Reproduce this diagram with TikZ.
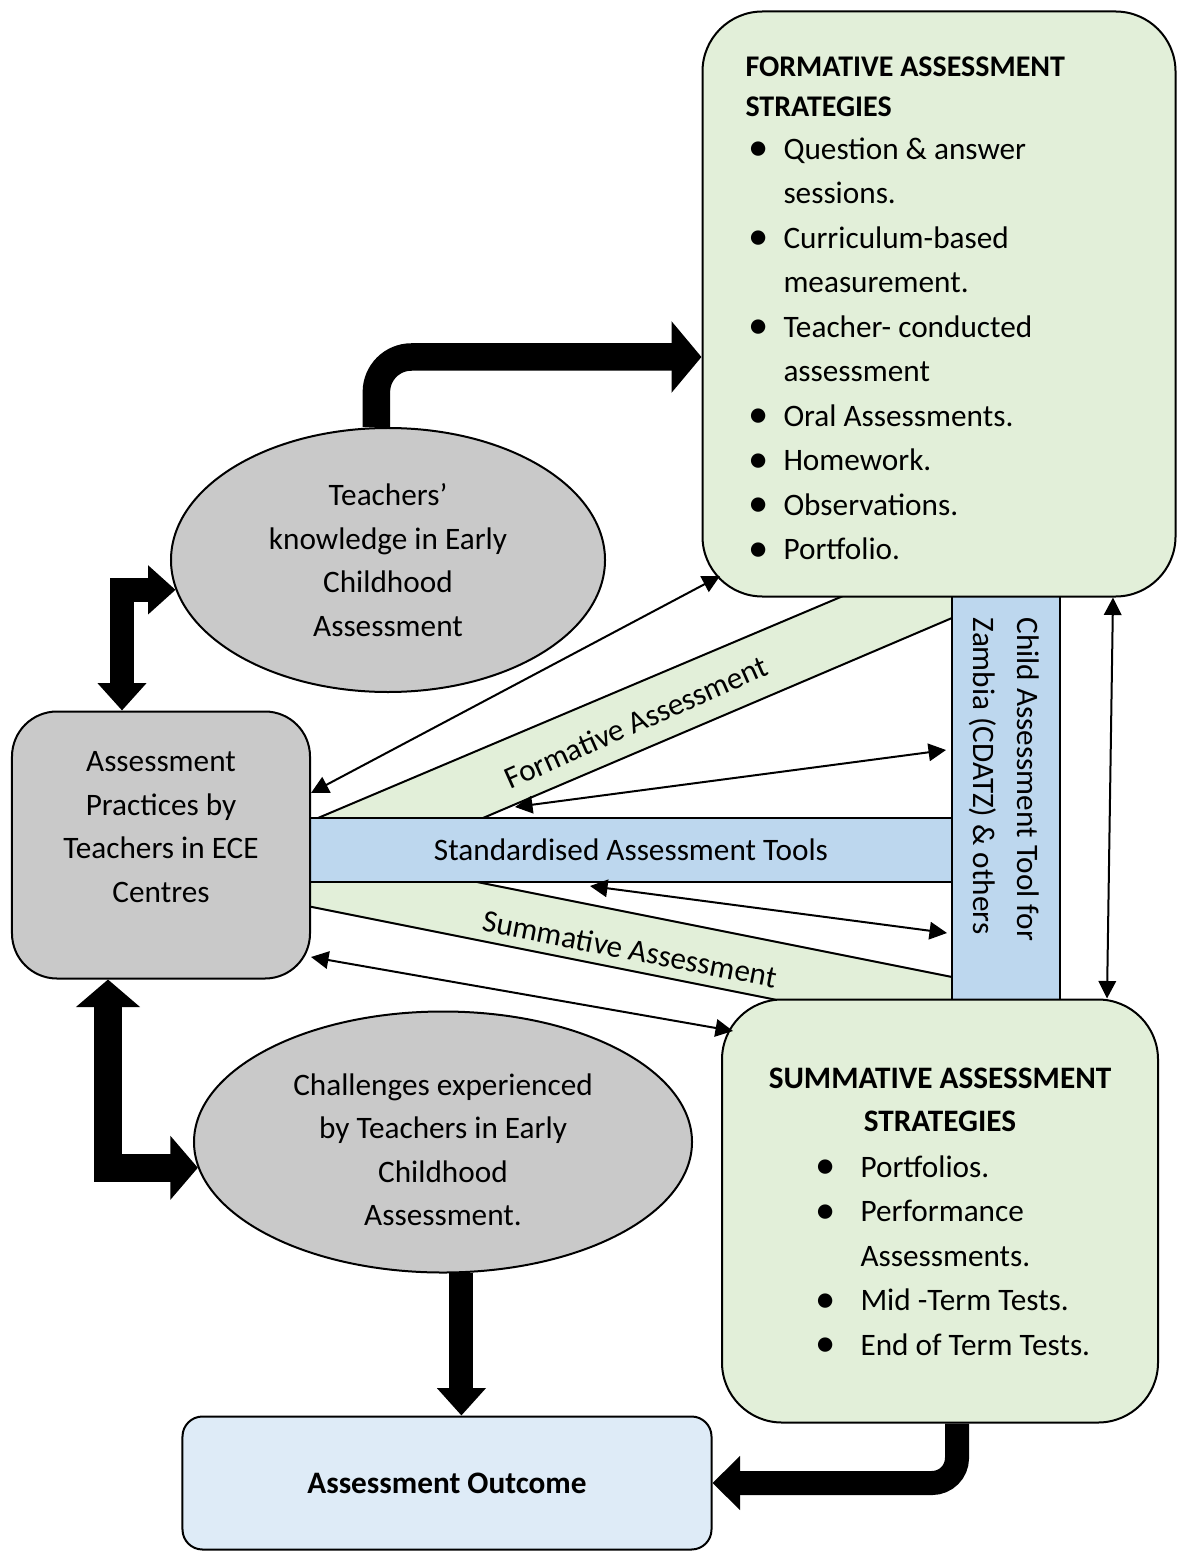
\documentclass[tikz,border=0pt]{standalone}
\usepackage{fontspec}
\setmainfont{Carlito}
\usetikzlibrary{shapes,arrows.meta}

\definecolor{greenfill}{HTML}{E2EFD9}
\definecolor{greyfill}{HTML}{C9C9C9}
\definecolor{bluebar}{HTML}{BDD7EE}
\definecolor{bluebox}{HTML}{DEEBF7}

\newcommand{\bul}[1]{\makebox[#1][l]{\hspace{0.5pt}\raisebox{-0.7pt}{\scalebox{1.3}{\textbullet}}}}

\begin{document}
\begin{tikzpicture}[x=0.4pt,y=-0.4pt,font=\fontsize{12.5}{17.8}\selectfont,
                   box/.style={draw,line width=0.8pt,inner sep=0pt},
                   greenbox/.style={box,fill=greenfill,rounded corners=24pt},
                   greybox/.style={box,fill=greyfill},
                   bigarrow/.style={line width=11pt,-{Triangle[length=12pt,width=28pt]}},
                   twobig/.style 2 args={line width=#1,{Triangle[length=11pt,width=#2]}-{Triangle[length=11pt,width=#2]}},
                   thinarrow/.style={line width=0.8pt,{Triangle[length=7pt,width=7pt]}-{Triangle[length=7pt,width=7pt]}}]
\useasboundingbox (0,0) rectangle (1178,1551);

\fill[greenfill] (318,818) -- (843,596) -- (952,596) -- (952,618) -- (483,818) -- cycle;
\draw[line width=0.8pt] (318,818) -- (843,596) (483,818) -- (952,618);
\fill[greenfill] (307,882) -- (477,882) -- (952,977) -- (952,1000) -- (777,1000) -- (307,906) -- cycle;
\draw[line width=0.8pt] (477,882) -- (952,977) (307,906) -- (777,1000);
\node[rotate=24] (formlabel) at (636,722) {Formative Assessment};
\node[rotate=-11] (summlabel) at (630,949) {Summative Assessment};

\node[box,fill=bluebar,minimum width=256.8pt,minimum height=25.6pt] (std) at (631,850) {Standardised Assessment Tools};
\node[box,fill=bluebar,minimum width=43.2pt,minimum height=161.6pt] (cdatz) at (1006,798) {};
\node[rotate=-90,anchor=north west,align=left,inner sep=0pt] (cdatztext) at (1040,617) {Child Assessment Tool for\\Zambia (CDATZ) \& others};

\node[greenbox,minimum width=189.2pt,minimum height=234pt] (form) at (939,304) {};
\node[anchor=north west,align=left,inner sep=0pt,font=\fontsize{12}{16}\selectfont\bfseries] (formhead) at (745,56) {FORMATIVE ASSESSMENT\\STRATEGIES};
\node[anchor=north west,align=left,inner sep=0pt] (formlist) at (747,137) {\bul{14.4pt}Question \& answer\\\hspace*{14.4pt}sessions.\\\bul{14.4pt}Curriculum-based\\\hspace*{14.4pt}measurement.\\\bul{14.4pt}Teacher- conducted\\\hspace*{14.4pt}assessment\\\bul{14.4pt}Oral Assessments.\\\bul{14.4pt}Homework.\\\bul{14.4pt}Observations.\\\bul{14.4pt}Portfolio.};

\node[greenbox,minimum width=174.4pt,minimum height=169.2pt] (summ) at (940,1211) {};
\node[anchor=north,align=center,inner sep=0pt,font=\fontsize{12.5}{17.2}\selectfont\bfseries] (summhead) at (940,1067) {SUMMATIVE ASSESSMENT\\STRATEGIES};
\node[anchor=north west,align=left,inner sep=0pt] (summlist) at (814,1155) {\bul{18.4pt}Portfolios.\\\bul{18.4pt}Performance\\\hspace*{18.4pt}Assessments.\\\bul{18.4pt}Mid -Term Tests.\\\bul{18.4pt}End of Term Tests.};

\node[greybox,ellipse,minimum width=173.6pt,minimum height=105.6pt,align=center,font=\fontsize{12.5}{17.4}\selectfont] (teach) at (388,560) {Teachers’\\knowledge in Early\\Childhood\\Assessment};
\node[greybox,ellipse,minimum width=199.2pt,minimum height=104.4pt] (chal) at (443,1142) {};
\node[align=center,font=\fontsize{12.5}{17.4}\selectfont] (chaltext) at (443,1150) {Challenges experienced\\by Teachers in Early\\Childhood\\Assessment.};
\node[greybox,rounded corners=18pt,minimum width=119.2pt,minimum height=106.8pt] (prac) at (161,845) {};
\node[align=center,font=\fontsize{12.5}{17.4}\selectfont] (practext) at (161,827) {Assessment\\Practices by\\Teachers in ECE\\Centres};
\node[box,fill=bluebox,rounded corners=8pt,minimum width=211.6pt,minimum height=53.2pt,font=\fontsize{12.5}{17.8}\selectfont\bfseries] (out) at (447,1483) {Assessment Outcome};

\draw[bigarrow,rounded corners=14pt] (teach.95) |- (form.west |- 0,357);
\draw[twobig={9.6pt}{19pt}] (prac.north -| 122,0) |- (teach.188);
\draw[twobig={11.2pt}{25pt}] (prac.south -| 108,0) |- (chal.186);
\draw[line width=9.6pt,-{Triangle[length=11pt,width=19pt]}] (chal.278) -- (chal.278 |- out.north);
\draw[line width=9.6pt,rounded corners=10pt,-{Triangle[length=11pt,width=21pt]}] (summ.south -| 957,0) |- (out.east);

\coordinate (formcorner) at (720,576);
\coordinate (cdatztop) at (946,750);
\coordinate (formedge) at (515,807);
\coordinate (stdbottom) at (590,886);
\coordinate (cdatzlow) at (947,933);
\coordinate (summcorner) at (733,1031);
\draw[thinarrow] (prac.east |- 0,793) -- (formcorner);
\draw[thinarrow] (formedge) -- (cdatztop);
\draw[thinarrow] (stdbottom) -- (cdatzlow);
\draw[thinarrow] (prac.east |- 0,957) -- (summcorner);
\draw[thinarrow] (form.south -| 1113,0) -- (summ.north -| 1107,0);
\end{tikzpicture}
\end{document}
